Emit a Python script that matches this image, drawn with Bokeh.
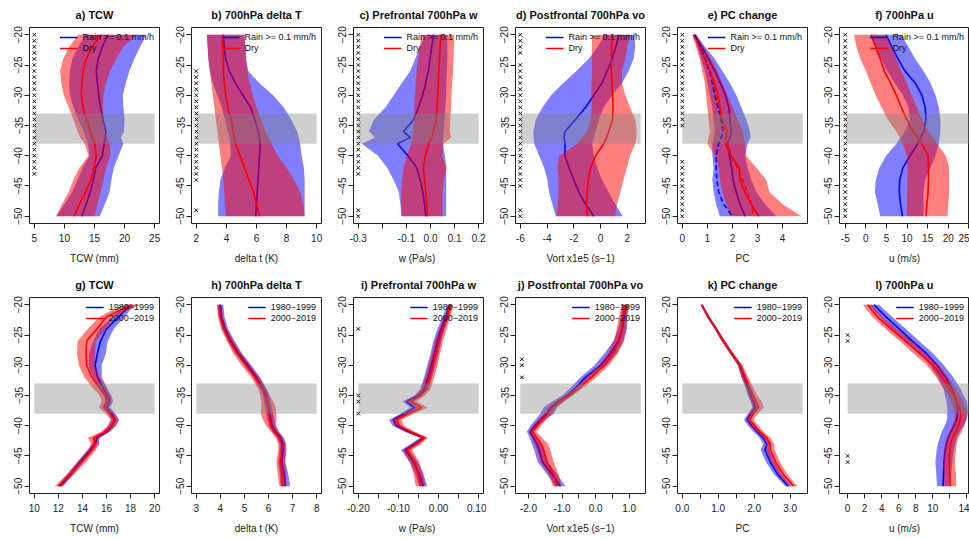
import numpy as np
from bokeh.plotting import figure
from bokeh.layouts import row, column
from bokeh.models import Range1d, FixedTicker, Legend, LegendItem
from bokeh.embed import file_html
from bokeh.resources import INLINE

FONT = "Liberation Sans"

LAT_TOP = [-20, -22, -24, -26, -28, -30, -32, -34, -36, -37, -38, -40, -42, -44, -46, -48, -50]
LAT_BOT = [-20, -22, -24, -26, -28, -30, -32, -34, -35, -36, -37, -38, -39, -40, -41, -42, -43, -44, -46, -48, -50]
GRAY_LAT = [-38, -33]
Y_TICKS = [-20, -25, -30, -35, -40, -45, -50]
TOP_LABELS = ["Rain >= 0.1 mm/h", "Dry"]
BOT_LABELS = ["1980\u22121999", "2000\u22122019"]

# ---------------- top row (Rain vs Dry) ----------------
A_RAIN = [17.2, 16.3, 15.6, 15.3, 15.5, 15.7, 16.0, 16.4, 16.9, 16.8, 16.6, 16.3, 15.2, 14.8, 14.3, 13.6, 12.9]
A_RAIN_LO = [13.5, 12.3, 11.3, 10.9, 10.8, 10.9, 11.5, 12.3, 13.2, 13.6, 13.9, 14.2, 13.0, 12.2, 11.3, 10.0, 8.7]
A_RAIN_HI = [23.6, 22.6, 21.6, 20.8, 20.2, 19.7, 19.8, 20.0, 19.9, 19.4, 19.8, 19.0, 18.2, 17.8, 17.5, 16.7, 15.9]
A_DRY = [16.2, 14.6, 13.6, 13.1, 12.9, 12.8, 13.1, 13.7, 14.3, 14.6, 15.0, 15.3, 14.9, 14.4, 13.5, 12.5, 11.6]
A_DRY_LO = [12.3, 10.8, 9.8, 9.3, 9.5, 9.9, 10.7, 11.5, 12.2, 12.6, 13.4, 14.0, 12.5, 11.5, 10.7, 9.6, 8.6]
A_DRY_HI = [22.1, 19.8, 18.6, 17.6, 16.9, 16.5, 16.4, 16.5, 16.8, 17.1, 17.6, 17.6, 16.9, 16.5, 16.0, 15.5, 15.0]
SIG_A = [-20, -21, -22, -23, -24, -25, -26, -27, -28, -29, -30, -31, -32, -33, -34, -35, -36, -37, -38, -39, -40, -41, -42, -43]

B_RAIN = [3.8, 3.85, 3.95, 4.2, 4.6, 5.1, 5.6, 5.9, 6.1, 6.2, 6.25, 6.2, 6.15, 6.1, 6.05, 6.0, 5.95]
B_RAIN_LO = [2.7, 2.75, 2.8, 2.9, 3.1, 3.4, 3.7, 3.9, 4.1, 4.2, 4.25, 4.3, 3.9, 3.6, 3.5, 3.45, 3.45]
B_RAIN_HI = [5.2, 5.25, 5.3, 5.45, 6.2, 7.1, 7.8, 8.3, 8.7, 8.8, 8.9, 9.0, 9.15, 9.2, 9.2, 9.2, 9.2]
B_DRY = [3.75, 3.75, 3.8, 3.8, 3.85, 3.95, 4.1, 4.3, 4.45, 4.5, 4.6, 4.9, 5.2, 5.5, 5.8, 6.0, 6.2]
B_DRY_LO = [2.7, 2.75, 2.8, 2.9, 3.0, 3.1, 3.2, 3.3, 3.4, 3.45, 3.5, 3.6, 3.7, 3.8, 3.85, 3.9, 3.95]
B_DRY_HI = [5.2, 5.25, 5.3, 5.4, 5.55, 5.75, 6.0, 6.3, 6.6, 6.8, 7.0, 7.4, 8.0, 8.5, 8.9, 9.1, 9.2]
SIG_B = [-26, -27, -28, -29, -30, -31, -32, -33, -34, -35, -36, -37, -38, -39, -40, -41, -42, -43, -44, -49]

C_RAIN = [0.012, 0.005, -0.002, -0.009, -0.02, -0.033, -0.05, -0.07, -0.112, -0.084, -0.137, -0.094, -0.057, -0.043, -0.032, -0.025, -0.02]
C_RAIN_LO = [-0.022, -0.043, -0.064, -0.084, -0.12, -0.153, -0.187, -0.235, -0.256, -0.23, -0.286, -0.218, -0.18, -0.153, -0.132, -0.125, -0.121]
C_RAIN_HI = [0.07, 0.07, 0.07, 0.068, 0.066, 0.065, 0.062, 0.058, 0.055, 0.052, 0.05, 0.06, 0.065, 0.065, 0.065, 0.065, 0.065]
C_DRY = [0.043, 0.04, 0.037, 0.034, 0.032, 0.03, 0.027, 0.024, 0.012, 0.005, -0.008, -0.022, -0.03, -0.025, -0.02, -0.015, -0.013]
C_DRY_LO = [-0.036, -0.045, -0.052, -0.058, -0.062, -0.065, -0.068, -0.07, -0.072, -0.075, -0.08, -0.098, -0.112, -0.118, -0.122, -0.123, -0.12]
C_DRY_HI = [0.098, 0.097, 0.096, 0.094, 0.09, 0.087, 0.085, 0.082, 0.08, 0.085, 0.055, 0.048, 0.067, 0.055, 0.05, 0.05, 0.05]
SIG_C = [-20, -21, -22, -23, -24, -25, -26, -27, -28, -29, -30, -31, -32, -33, -34, -35, -36, -37, -38, -39, -40, -41, -42, -43, -49, -50]

D_RAIN = [1.35, 1.15, 0.86, 0.49, 0.11, -0.5, -1.12, -1.87, -2.66, -2.73, -2.66, -2.66, -2.36, -1.99, -1.62, -1.12, -0.5]
D_RAIN_LO = [0.3, -0.2, -0.9, -1.8, -2.8, -3.7, -4.34, -4.84, -5.03, -5.0, -4.96, -4.59, -4.22, -3.97, -3.85, -3.6, -3.35]
D_RAIN_HI = [2.54, 2.59, 2.47, 2.1, 1.6, 0.86, 0.24, -0.12, -0.37, -0.5, -0.63, -0.5, -0.25, 0.11, 0.6, 1.1, 1.65]
D_DRY = [0.86, 0.83, 0.8, 0.8, 0.85, 0.9, 0.93, 0.9, 0.6, 0.45, 0.24, -0.37, -0.75, -0.93, -1.0, -1.05, -1.0]
D_DRY_LO = [-0.63, -0.65, -0.65, -0.63, -0.68, -0.68, -0.65, -0.75, -1.0, -1.35, -1.74, -3.1, -3.23, -3.15, -3.15, -3.2, -3.3]
D_DRY_HI = [2.2, 2.0, 1.85, 1.6, 1.6, 1.85, 2.2, 2.6, 2.7, 2.68, 2.6, 2.2, 1.97, 1.72, 1.48, 1.23, 1.1]
SIG_D = [-20, -21, -22, -23, -25, -26, -27, -28, -29, -30, -31, -32, -33, -34, -35, -36, -37, -38, -39, -40, -41, -42, -43, -44, -45, -49, -50]

E_RAIN = [0.5, 0.78, 1.05, 1.3, 1.52, 1.72, 1.85, 1.9, 1.95, 1.9, 1.8, 1.88, 1.97, 2.02, 2.15, 2.3, 2.5]
E_RAIN_DASH = [0.5, 0.72, 0.92, 1.08, 1.2, 1.3, 1.42, 1.55, 1.62, 1.55, 1.45, 1.35, 1.35, 1.38, 1.45, 1.65, 2.0]
E_RAIN_LO = [0.45, 0.6, 0.75, 0.9, 1.0, 1.1, 1.2, 1.25, 1.3, 1.25, 1.2, 1.2, 1.25, 1.2, 1.25, 1.35, 1.5]
E_RAIN_HI = [0.55, 0.9, 1.3, 1.6, 1.9, 2.15, 2.35, 2.55, 2.7, 2.72, 2.6, 2.5, 2.6, 2.75, 2.95, 3.3, 3.75]
E_DRY = [0.45, 0.7, 0.9, 1.1, 1.28, 1.43, 1.5, 1.56, 1.8, 1.75, 1.72, 1.95, 2.28, 2.3, 2.5, 2.75, 3.05]
E_DRY_DASH = [0.45, 0.68, 0.9, 1.1, 1.25, 1.38, 1.5, 1.6, 1.7, 1.75, 1.8, 1.95, 2.2, 2.4, 2.6, 2.75, 2.85]
E_DRY_LO = [0.4, 0.55, 0.7, 0.8, 0.9, 0.95, 1.0, 1.05, 1.1, 1.05, 1.0, 1.3, 1.45, 1.5, 1.6, 1.75, 1.9]
E_DRY_HI = [0.55, 0.85, 1.15, 1.4, 1.6, 1.8, 2.0, 2.2, 2.4, 2.45, 2.5, 2.55, 2.95, 3.35, 3.47, 4.0, 4.75]
SIG_E = [-20, -21, -22, -23, -24, -25, -26, -27, -28, -29, -30, -31, -32, -33, -34, -35,
         -41, -42, -43, -44, -45, -46, -47, -48, -49, -50]

F_RAIN = [4.9, 6.3, 7.8, 9.5, 12.0, 13.6, 14.4, 14.6, 14.0, 13.3, 12.6, 10.7, 9.0, 8.2, 8.1, 8.4, 8.9]
F_RAIN_LO = [1.2, 2.4, 3.7, 5.2, 7.0, 9.0, 10.3, 10.7, 9.5, 8.5, 7.4, 4.9, 3.3, 2.4, 2.2, 2.9, 3.5]
F_RAIN_HI = [8.6, 10.3, 12.0, 14.0, 15.7, 16.9, 17.7, 18.1, 18.1, 17.9, 17.7, 16.9, 15.7, 14.4, 14.0, 14.0, 14.0]
F_DRY = [1.2, 2.4, 3.5, 4.5, 6.0, 7.4, 8.6, 9.9, 11.5, 12.6, 13.6, 15.1, 15.2, 15.2, 15.1, 14.8, 14.6]
F_DRY_LO = [-2.9, -2.3, -1.3, 0.0, 1.2, 2.4, 3.8, 5.3, 7.4, 8.2, 9.0, 9.9, 10.1, 10.1, 10.0, 10.0, 9.9]
F_DRY_HI = [4.9, 6.2, 7.4, 8.6, 9.9, 11.1, 12.4, 13.6, 15.2, 16.3, 17.3, 19.4, 20.2, 20.2, 20.2, 20.0, 19.8]
SIG_F = [-20, -21, -22, -23, -24, -25, -26, -27, -28, -29, -30, -31, -32, -33, -34, -35, -36, -37, -38, -39,
         -40, -41, -42, -43, -44, -45, -46, -47, -48, -49, -50]

# ---------------- bottom row (1980-1999 vs 2000-2019) ----------------
G_P1 = [18.0, 17.0, 16.0, 15.5, 15.25, 15.05, 15.25, 15.75, 16.1, 16.25, 16.0, 16.45, 16.7, 16.45, 16.0, 15.2, 15.05, 14.65, 13.8, 13.0, 12.15]
G_P1_HW = [0.35, 0.5, 0.6, 0.6, 0.7, 0.55, 0.35, 0.35, 0.3, 0.3, 0.3, 0.3, 0.3, 0.3, 0.3, 0.25, 0.25, 0.25, 0.25, 0.25, 0.25]
G_P2 = [18.1, 16.0, 15.2, 14.35, 14.3, 14.35, 14.8, 15.5, 15.9, 16.0, 15.75, 16.3, 16.7, 16.45, 15.9, 14.9, 15.05, 14.8, 13.95, 13.0, 12.0]
G_P2_HW = [0.7, 0.6, 0.75, 0.75, 0.75, 0.65, 0.65, 0.55, 0.45, 0.4, 0.4, 0.35, 0.35, 0.35, 0.35, 0.45, 0.35, 0.3, 0.35, 0.3, 0.3]

H_P1 = [4.0, 4.05, 4.2, 4.45, 4.75, 5.15, 5.5, 5.8, 5.9, 5.95, 6.0, 6.05, 6.1, 6.15, 6.3, 6.5, 6.6, 6.6, 6.55, 6.65, 6.7]
H_P1_HW = [0.12, 0.12, 0.12, 0.14, 0.14, 0.14, 0.14, 0.14, 0.14, 0.14, 0.14, 0.14, 0.14, 0.14, 0.14, 0.14, 0.14, 0.14, 0.15, 0.17, 0.2]
H_P2 = [3.95, 4.0, 4.15, 4.4, 4.7, 5.05, 5.45, 5.75, 5.85, 5.95, 6.0, 6.0, 6.05, 6.1, 6.25, 6.45, 6.55, 6.55, 6.5, 6.55, 6.6]
H_P2_HW = [0.1, 0.1, 0.12, 0.13, 0.17, 0.17, 0.17, 0.17, 0.2, 0.25, 0.3, 0.32, 0.28, 0.2, 0.15, 0.15, 0.15, 0.15, 0.17, 0.17, 0.15]

I_P1 = [0.028, 0.018, 0.006, -0.003, -0.01, -0.018, -0.026, -0.036, -0.05, -0.08, -0.06, -0.085, -0.113, -0.105, -0.075, -0.038, -0.06, -0.083, -0.062, -0.048, -0.038]
I_P1_HW = [0.006, 0.008, 0.009, 0.01, 0.01, 0.01, 0.01, 0.01, 0.01, 0.01, 0.01, 0.01, 0.01, 0.01, 0.01, 0.008, 0.01, 0.01, 0.01, 0.01, 0.01]
I_P2 = [0.03, 0.022, 0.011, 0.001, -0.006, -0.014, -0.022, -0.032, -0.046, -0.068, -0.042, -0.075, -0.104, -0.098, -0.07, -0.035, -0.055, -0.078, -0.06, -0.05, -0.045]
I_P2_HW = [0.006, 0.008, 0.009, 0.01, 0.01, 0.011, 0.011, 0.012, 0.012, 0.013, 0.015, 0.014, 0.012, 0.012, 0.011, 0.009, 0.011, 0.012, 0.012, 0.012, 0.012]
SIG_I = [-24, -35, -36, -38]

J_P1 = [0.9, 0.85, 0.8, 0.68, 0.45, 0.15, -0.3, -0.65, -0.85, -1.12, -1.35, -1.45, -1.65, -1.82, -1.95, -1.85, -1.75, -1.68, -1.58, -1.3, -1.05]
J_P1_HW = [0.1, 0.1, 0.12, 0.15, 0.18, 0.18, 0.15, 0.15, 0.15, 0.18, 0.2, 0.2, 0.15, 0.12, 0.1, 0.12, 0.15, 0.15, 0.15, 0.15, 0.15]
J_P2 = [0.88, 0.82, 0.78, 0.7, 0.52, 0.25, -0.12, -0.55, -0.8, -1.08, -1.3, -1.42, -1.6, -1.75, -1.88, -1.75, -1.62, -1.55, -1.45, -1.25, -1.15]
J_P2_HW = [0.1, 0.12, 0.15, 0.15, 0.15, 0.15, 0.15, 0.12, 0.12, 0.12, 0.12, 0.12, 0.12, 0.12, 0.12, 0.15, 0.2, 0.2, 0.2, 0.15, 0.12]
SIG_J = [-29, -30, -32]

K_P1 = [0.54, 0.72, 0.94, 1.14, 1.37, 1.6, 1.72, 1.85, 1.9, 1.98, 2.03, 1.9, 1.8, 1.93, 2.08, 2.25, 2.35, 2.3, 2.45, 2.65, 2.95]
K_P1_HW = [0.03, 0.04, 0.04, 0.05, 0.05, 0.06, 0.07, 0.08, 0.08, 0.08, 0.08, 0.08, 0.08, 0.1, 0.1, 0.1, 0.1, 0.12, 0.12, 0.1, 0.08]
K_P2 = [0.54, 0.72, 0.94, 1.14, 1.37, 1.61, 1.74, 1.9, 1.97, 2.06, 2.12, 1.98, 1.88, 2.02, 2.16, 2.35, 2.45, 2.45, 2.6, 2.8, 3.1]
K_P2_HW = [0.03, 0.04, 0.04, 0.05, 0.05, 0.06, 0.1, 0.1, 0.12, 0.15, 0.15, 0.12, 0.1, 0.1, 0.1, 0.1, 0.1, 0.12, 0.12, 0.12, 0.1]

L_P1 = [3.1, 4.5, 6.05, 7.6, 9.2, 10.5, 11.5, 12.3, 12.5, 12.8, 12.9, 12.9, 12.8, 12.5, 12.1, 11.8, 11.6, 11.45, 11.3, 11.25, 11.2]
L_P1_HW = [0.6, 0.7, 0.8, 0.8, 0.8, 0.8, 0.9, 1.0, 1.1, 1.2, 1.2, 1.2, 1.15, 1.1, 1.05, 1.0, 1.0, 1.0, 1.0, 0.85, 0.7]
L_P2 = [2.35, 3.5, 5.1, 6.8, 8.4, 10.0, 11.1, 12.0, 12.5, 12.8, 13.1, 13.3, 13.2, 13.0, 12.7, 12.3, 12.1, 12.0, 11.9, 12.0, 12.05]
L_P2_HW = [0.55, 0.6, 0.65, 0.7, 0.7, 0.7, 0.7, 0.7, 0.7, 0.7, 0.7, 0.7, 0.7, 0.7, 0.7, 0.7, 0.7, 0.7, 0.7, 0.7, 0.7]
SIG_L = [-25, -26, -45, -46]


def minus(a, b):
    return list(np.array(a) - np.array(b))


def plus(a, b):
    return list(np.array(a) + np.array(b))


TOP = [
    dict(title="a) TCW", xlab="TCW (mm)", xr=(4.2, 25.8), gx=(5, 25),
         xt=[5, 10, 15, 20, 25], xl=["5", "10", "15", "20", "25"],
         b=(A_RAIN_LO, A_RAIN_HI, A_RAIN), r=(A_DRY_LO, A_DRY_HI, A_DRY), sig=SIG_A, sx=5),
    dict(title="b) 700hPa delta T", xlab="delta t (K)", xr=(1.68, 10.32), gx=(2, 10),
         xt=[2, 4, 6, 8, 10], xl=["2", "4", "6", "8", "10"],
         b=(B_RAIN_LO, B_RAIN_HI, B_RAIN), r=(B_DRY_LO, B_DRY_HI, B_DRY), sig=SIG_B, sx=2),
    dict(title="c) Prefrontal 700hPa w", xlab="w  (Pa/s)", xr=(-0.32, 0.22), gx=(-0.3, 0.2),
         xt=[-0.3, -0.2, -0.1, 0.0, 0.1, 0.2], xl=["-0.3", "", "-0.1", "0.0", "0.1", "0.2"],
         b=(C_RAIN_LO, C_RAIN_HI, C_RAIN), r=(C_DRY_LO, C_DRY_HI, C_DRY), sig=SIG_C, sx=-0.3),
    dict(title="d) Postfrontal 700hPa vo", xlab="Vort x1e5 (s\u22121)", xr=(-6.36, 3.36), gx=(-6, 3),
         xt=[-6, -4, -2, 0, 2], xl=["-6", "-4", "-2", "0", "2"],
         b=(D_RAIN_LO, D_RAIN_HI, D_RAIN), r=(D_DRY_LO, D_DRY_HI, D_DRY), sig=SIG_D, sx=-6),
    dict(title="e) PC change", xlab="PC", xr=(-0.19, 4.99), gx=(0, 4.8),
         xt=[0, 1, 2, 3, 4], xl=["0", "1", "2", "3", "4"],
         b=(E_RAIN_LO, E_RAIN_HI, E_RAIN), r=(E_DRY_LO, E_DRY_HI, E_DRY), sig=SIG_E, sx=0,
         dash=(E_RAIN_DASH, E_DRY_DASH)),
    dict(title="f) 700hPa u", xlab="u (m/s)", xr=(-6.4, 25.15), gx=(-5, 30),
         xt=[-5, 0, 5, 10, 15, 20, 25], xl=["-5", "0", "5", "10", "15", "20", "25"],
         b=(F_RAIN_LO, F_RAIN_HI, F_RAIN), r=(F_DRY_LO, F_DRY_HI, F_DRY), sig=SIG_F, sx=-5),
]

BOT = [
    dict(title="g) TCW", xlab="TCW (mm)", xr=(9.6, 20.4), gx=(10, 20),
         xt=[10, 12, 14, 16, 18, 20], xl=["10", "12", "14", "16", "18", "20"],
         b=(minus(G_P1, G_P1_HW), plus(G_P1, G_P1_HW), G_P1), r=(minus(G_P2, G_P2_HW), plus(G_P2, G_P2_HW), G_P2)),
    dict(title="h) 700hPa delta T", xlab="delta t (K)", xr=(2.8, 8.2), gx=(3, 8),
         xt=[3, 4, 5, 6, 7, 8], xl=["3", "4", "5", "6", "7", "8"],
         b=(minus(H_P1, H_P1_HW), plus(H_P1, H_P1_HW), H_P1), r=(minus(H_P2, H_P2_HW), plus(H_P2, H_P2_HW), H_P2)),
    dict(title="i) Prefrontal 700hPa w", xlab="w  (Pa/s)", xr=(-0.212, 0.112), gx=(-0.2, 0.1),
         xt=[-0.2, -0.15, -0.1, -0.05, 0.0, 0.05, 0.1], xl=["-0.20", "", "-0.10", "", "0.00", "", "0.10"],
         b=(minus(I_P1, I_P1_HW), plus(I_P1, I_P1_HW), I_P1), r=(minus(I_P2, I_P2_HW), plus(I_P2, I_P2_HW), I_P2),
         sig=SIG_I, sx=-0.2),
    dict(title="j) Postfrontal 700hPa vo", xlab="Vort x1e5 (s\u22121)", xr=(-2.39, 1.49), gx=(-2.25, 1.35),
         xt=[-2.0, -1.5, -1.0, -0.5, 0.0, 0.5, 1.0], xl=["-2.0", "", "-1.0", "", "0.0", "", "1.0"],
         b=(minus(J_P1, J_P1_HW), plus(J_P1, J_P1_HW), J_P1), r=(minus(J_P2, J_P2_HW), plus(J_P2, J_P2_HW), J_P2),
         sig=SIG_J, sx=-2.2),
    dict(title="k) PC change", xlab="PC", xr=(-0.134, 3.484), gx=(0, 3.35),
         xt=[0.0, 0.5, 1.0, 1.5, 2.0, 2.5, 3.0], xl=["0.0", "", "1.0", "", "2.0", "", "3.0"],
         b=(minus(K_P1, K_P1_HW), plus(K_P1, K_P1_HW), K_P1), r=(minus(K_P2, K_P2_HW), plus(K_P2, K_P2_HW), K_P2)),
    dict(title="l) 700hPa u", xlab="u (m/s)", xr=(-0.95, 14.3), gx=(0, 16),
         xt=[0, 2, 4, 6, 8, 10, 12, 14], xl=["0", "2", "4", "6", "8", "10", "", "14"],
         b=(minus(L_P1, L_P1_HW), plus(L_P1, L_P1_HW), L_P1), r=(minus(L_P2, L_P2_HW), plus(L_P2, L_P2_HW), L_P2),
         sig=SIG_L, sx=0),
]


def make_panel(cfg, lat, labels, top, width):
    p = figure(width=width, height=269 if top else 270,
               x_range=Range1d(*cfg["xr"]), y_range=Range1d(-51.2, -18.8),
               output_backend="svg", toolbar_location=None,
               min_border_left=29, min_border_right=width - 159,
               min_border_top=27 if top else 28, min_border_bottom=46,
               background_fill_color="white", border_fill_color="white")
    p.xgrid.visible = False
    p.ygrid.visible = False
    p.outline_line_color = "#222222"
    p.outline_line_width = 1

    blo, bhi, bmid = cfg["b"]
    rlo, rhi, rmid = cfg["r"]
    p.harea(y=lat, x1=blo, x2=bhi, fill_color="#0000FF", fill_alpha=0.5)
    bl = p.line(x=bmid, y=lat, line_color="#0000FF", line_width=1.6)
    p.harea(y=lat, x1=rlo, x2=rhi, fill_color="#FF0000", fill_alpha=0.5)
    rl = p.line(x=rmid, y=lat, line_color="#FF0000", line_width=1.6)
    if "dash" in cfg:
        p.line(x=cfg["dash"][0], y=lat, line_color="#0000FF", line_width=1.6, line_dash="5 3")
        p.line(x=cfg["dash"][1], y=lat, line_color="#FF0000", line_width=1.6, line_dash="5 3")

    gx = cfg["gx"]
    p.quad(left=[gx[0]], right=[gx[1]], bottom=[GRAY_LAT[0]], top=[GRAY_LAT[1]],
           fill_color="#808080", fill_alpha=0.38, line_color=None)

    if cfg.get("sig"):
        p.scatter(x=[cfg["sx"]] * len(cfg["sig"]), y=cfg["sig"], marker="x", size=5,
                  line_color="#111111", line_width=1)

    leg = Legend(items=[LegendItem(label=labels[0], renderers=[bl]),
                        LegendItem(label=labels[1], renderers=[rl])],
                 location="top_right", label_text_font=FONT, label_text_font_size="9px",
                 label_text_color="#111111",
                 background_fill_alpha=0, border_line_alpha=0, glyph_width=18, glyph_height=10,
                 label_height=10, spacing=1, padding=2, margin=3, label_standoff=5)
    p.add_layout(leg)

    p.xaxis.ticker = FixedTicker(ticks=cfg["xt"])
    p.xaxis.major_label_overrides = dict(zip(cfg["xt"], cfg["xl"]))
    p.yaxis.ticker = FixedTicker(ticks=Y_TICKS)
    p.yaxis.major_label_orientation = "vertical"
    for ax in (p.xaxis[0], p.yaxis[0]):
        ax.axis_line_color = None
        ax.major_tick_line_color = "#222222"
        ax.major_tick_out = 5
        ax.major_tick_in = 0
        ax.minor_tick_line_color = None
        ax.major_label_text_font = FONT
        ax.major_label_text_font_size = "10px"
        ax.major_label_text_color = "#222222"
    p.xaxis.major_label_standoff = 5
    p.yaxis.major_label_standoff = 2
    p.xaxis.axis_label = cfg["xlab"]
    p.xaxis.axis_label_text_font = FONT
    p.xaxis.axis_label_text_font_size = "10px"
    p.xaxis.axis_label_text_font_style = "normal"
    p.xaxis.axis_label_text_color = "#222222"
    p.xaxis.axis_label_standoff = 8

    p.title.text = cfg["title"]
    p.title.align = "center"
    p.title.vertical_align = "middle"
    p.title.text_font = FONT
    p.title.text_font_size = "11px"
    p.title.text_font_style = "bold"
    p.title.text_color = "#111111"
    p.title.standoff = 11
    return p


top_figs = [make_panel(c, LAT_TOP, TOP_LABELS, True, 159 if i == 5 else 162) for i, c in enumerate(TOP)]
bot_figs = [make_panel(c, LAT_BOT, BOT_LABELS, False, 159 if i == 5 else 162) for i, c in enumerate(BOT)]

layout = column(row(*top_figs), row(*bot_figs))
open("out.html", "w").write(file_html(layout, INLINE))
